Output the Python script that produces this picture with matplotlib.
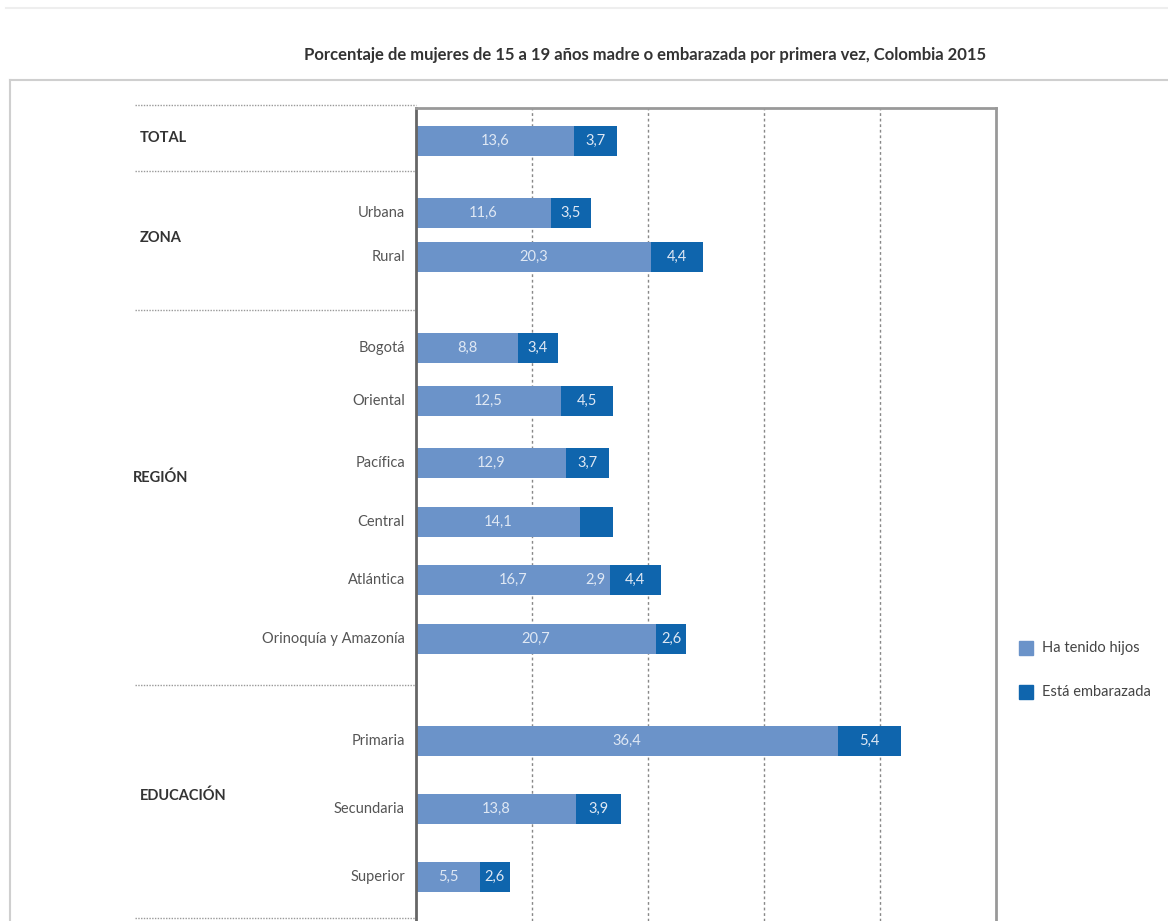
import matplotlib.pyplot as plt
import numpy as np

plt.rcParams['font.family'] = ['Lato', 'DejaVu Sans']

# datos
categorias = ["TOTAL", "Urbana", "Rural", "Bogotá", "Oriental", "Pacífica", "Central",
              "Atlántica", "Orinoquía y Amazonía", "Primaria", "Secundaria", "Superior"]
ha_tenido_hijos = [13.6, 11.6, 20.3, 8.8, 12.5, 12.9, 14.1, 16.7, 20.7, 36.4, 13.8, 5.5]
embarazada = [3.7, 3.5, 4.4, 3.4, 4.5, 3.7, 2.9, 4.4, 2.6, 5.4, 3.9, 2.6]
etiqueta_emb = ["3,7", "3,5", "4,4", "3,4", "4,5", "3,7", "", "4,4", "2,6", "5,4", "3,9", "2,6"]
grupos = ["TOTAL", "ZONA", "REGIÓN", "EDUCACIÓN"]

# posiciones (pixeles de la figura)
W, H = 1168, 921
ypos = [141, 213, 257, 348, 401, 463, 522, 580, 639, 741, 809, 877]
yalto = 30
grupo_y = [138, 238, 478, 796]
grupo_x = [140, 140, 133, 140]
separadores = [105, 171, 310, 685, 918]

claro = "#6b93c9"
oscuro = "#0f65ad"

fig = plt.figure(figsize=(W / 100, H / 100), dpi=100)

# fondo con marco y textos
bg = fig.add_axes([0, 0, 1, 1])
bg.set_xlim(0, W)
bg.set_ylim(H, 0)
bg.axis("off")
bg.plot([6, W], [8, 8], color="#eeeeee", lw=1.5)
bg.plot([10, W], [80, 80], color="#cfcfcf", lw=1.5)
bg.plot([10, 10], [80, H], color="#cfcfcf", lw=1.5)
for s in separadores:
    bg.plot([135, 416], [s, s], color="#999999", lw=1, ls=(0, (1, 1)))
bg.text(645, 55, "Porcentaje de mujeres de 15 a 19 años madre o embarazada por primera vez, Colombia 2015",
        ha="center", va="center", fontsize=12, color="#333333", fontweight="bold")
for g, gx, gy in zip(grupos, grupo_x, grupo_y):
    bg.text(gx, gy, g, ha="left", va="center", fontsize=10.5, fontweight="bold", color="#333333")
for c, y in zip(categorias[1:], ypos[1:]):
    bg.text(405, y, c, ha="right", va="center", fontsize=10.5, color="#555555")

# leyenda
bg.add_patch(plt.Rectangle((1019, 641), 14, 14, color=claro))
bg.add_patch(plt.Rectangle((1019, 685), 14, 14, color=oscuro))
bg.text(1042, 648, "Ha tenido hijos", ha="left", va="center", fontsize=10.5, color="#444444")
bg.text(1042, 692, "Está embarazada", ha="left", va="center", fontsize=10.5, color="#444444")

# grafico de barras
ax = fig.add_axes([416 / W, 0, (996 - 416) / W, 1 - 108 / H])
ax.set_xlim(0, 50)
ax.set_ylim(H, 108)
y = np.array(ypos)
ax.barh(y, ha_tenido_hijos, height=yalto, color=claro)
ax.barh(y, embarazada, left=ha_tenido_hijos, height=yalto, color=oscuro)

for i in range(len(categorias)):
    ax.text(ha_tenido_hijos[i] / 2, y[i], f"{ha_tenido_hijos[i]:.1f}".replace(".", ","),
            ha="center", va="center", fontsize=10.5, color="#dfe8f4")
    ax.text(ha_tenido_hijos[i] + embarazada[i] / 2, y[i], etiqueta_emb[i],
            ha="center", va="center", fontsize=10.5, color="#dfe8f4")
# etiqueta suelta en Atlántica
ax.text(ha_tenido_hijos[7] - 1.2, y[7], "2,9", ha="center", va="center", fontsize=10.5, color="#dfe8f4")

for gx in [10, 20, 30, 40]:
    ax.axvline(gx, color="#888888", lw=1, ls=(0, (2, 2)), zorder=0)

ax.set_xticks([])
ax.set_yticks([])
ax.spines["bottom"].set_visible(False)
ax.spines["left"].set_color("#666666")
ax.spines["left"].set_linewidth(2)
ax.spines["top"].set_color("#999999")
ax.spines["top"].set_linewidth(2)
ax.spines["right"].set_color("#999999")
ax.spines["right"].set_linewidth(2)

fig.savefig("out.png", dpi=100)
